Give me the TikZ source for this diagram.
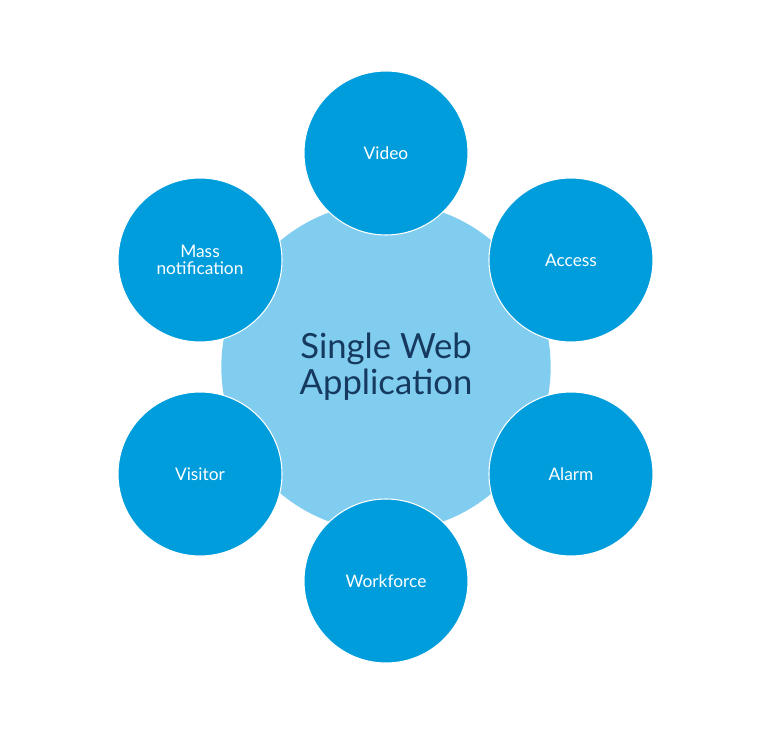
\documentclass[tikz,border=0pt]{standalone}
\usepackage{fontspec}
\setmainfont{Lato}
\definecolor{hubblue}{HTML}{80CDEF}
\definecolor{satblue}{HTML}{009DDC}
\definecolor{navy}{HTML}{163A5F}
\tikzset{
  hub/.style={circle, fill=hubblue, minimum size=247pt, inner sep=0pt, align=center,
    text=navy, font=\fontsize{26}{27}\selectfont},
  sat/.style={circle, fill=satblue, draw=white, line width=0.8pt, minimum size=123pt,
    inner sep=0pt, align=center, text=white, font=\fontsize{13}{13}\selectfont}
}
\begin{document}
\begin{tikzpicture}[x=0.75pt, y=-0.75pt]
  \useasboundingbox (0,0) rectangle (772,732);

  % Hub
  \node[hub] (hub) at (386,367) {Single Web\\Application};

  % Satellites
  \node[sat] (video) at (386,153) {Video};
  \node[sat] (access) at (571,260) {Access};
  \node[sat] (alarm) at (571,474) {Alarm};
  \node[sat] (workforce) at (386,581) {Workforce};
  \node[sat] (visitor) at (200,474) {Visitor};
  \node[sat] (mass) at (200,260) {Mass\\notification};
\end{tikzpicture}
\end{document}
